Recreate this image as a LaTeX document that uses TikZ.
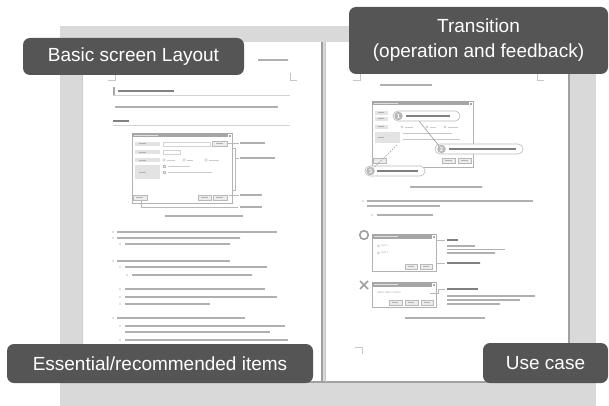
\documentclass[tikz,border=0pt]{standalone}
\usepackage{fontspec}
\setmainfont{Liberation Sans}
\definecolor{bggrey}{HTML}{D9D9D9}
\definecolor{labelfill}{HTML}{555555}
\definecolor{txtgrey}{HTML}{B0B0B0}
\definecolor{darktxt}{HTML}{808080}
\definecolor{edgegrey}{HTML}{A0A0A0}
\newcommand{\txtbar}[3]{\draw[tline] (#1,#3) -- (#2,#3);}
\newcommand{\txtbarD}[3]{\draw[tline,draw=darktxt] (#1,#3) -- (#2,#3);}
\begin{document}
\begin{tikzpicture}[x=1pt,y=-1pt,
  tag/.style={fill=labelfill, rounded corners=7pt, text=white,
    font=\fontsize{19}{25}\selectfont, inner sep=0pt, align=center},
  tline/.style={draw=txtgrey, line width=1.3pt, dash pattern=on 2.6pt off 0.4pt},
  rule/.style={draw=gray!35, line width=0.5pt},
  conn/.style={draw=gray!55, line width=0.5pt},
  dlg/.style={draw=gray!60, fill=white, line width=0.6pt},
  tbar/.style={fill=gray!70},
  lbox/.style={fill=gray!22},
  fld/.style={draw=gray!35, fill=white, line width=0.4pt},
  btn/.style={draw=gray!55, fill=gray!15, line width=0.4pt},
  pill/.style={draw=gray!55, fill=white, rounded corners=5pt, line width=0.6pt},
  numc/.style={circle, fill=gray!55, text=white, inner sep=0pt, minimum size=8.5pt,
    font=\fontsize{6}{6}\selectfont\bfseries},
  tiny/.style={font=\fontsize{2.6}{3}\selectfont, text=gray!70, inner sep=0pt, anchor=west},
  okmark/.style={draw=gray!75, line width=1.6pt},
  crop/.style={draw=gray!45, line width=0.4pt}
]
\useasboundingbox (0,0) rectangle (609,406);
% background and pages
\fill[bggrey] (60,26) rectangle (596,406);
\fill[white] (82,42) rectangle (322,382);
\fill[white] (325,42) rectangle (569,382);
\draw[draw=gray!40, line width=0.5pt] (82,42) -- (82,382);
\draw[draw=edgegrey, line width=1.6pt] (569,42) -- (569,382.5);
\draw[draw=edgegrey, line width=1.4pt] (82,382) -- (569.8,382);
\draw[draw=gray!75, line width=1.2pt] (322,42) -- (322,382);
\draw[draw=gray!45, line width=0.6pt] (325,42) -- (325,382);

% ---------------- left page ----------------
\draw[crop] (108,80) -- (115,80) -- (115,73);
\draw[crop] (297,80) -- (290,80) -- (290,73);
\txtbar{258}{288}{60}
\fill[gray!70] (113,87) rectangle (115,95);
\txtbarD{118}{174}{91}
\draw[rule] (113,95.5) -- (290,95.5);
\txtbar{115}{278}{107}
\txtbarD{113}{129}{121}
\draw[rule] (113,125) -- (290,125);

% dialog
\draw[dlg] (132,133) rectangle (232,203);
\fill[tbar] (132,133) rectangle (232,137.5);
\draw[draw=gray!25, line width=1pt] (134,135.3) -- (158,135.3);
\draw[draw=white, line width=0.3pt] (228,134) rectangle (231,137);
\fill[lbox] (135,142) rectangle (160,146);
\fill[lbox] (135,150) rectangle (160,154);
\fill[lbox] (135,158) rectangle (160,162);
\fill[lbox] (135,165) rectangle (160,179);
\foreach \yy in {144,152,160,172} {\draw[draw=gray!60, line width=1pt] (139,\yy) -- (146,\yy);}
\draw[fld] (163,142) rectangle (210,146);
\draw[btn] (212,141.5) rectangle (227,146.5);
\draw[draw=gray!60, line width=1pt] (216,144) -- (223,144);
\draw[fld] (163,150) rectangle (180,154);
\foreach \xx/\ww in {164/8,184/6,206/10} {
  \draw[draw=gray!55, line width=0.4pt] (\xx,160) circle (1.3);
  \draw[draw=gray!40, line width=0.8pt] (\xx+3,160) -- (\xx+3+\ww,160);}
\draw[draw=gray!55, line width=0.4pt] (163,165) rectangle (165.5,167.5);
\draw[draw=gray!55, line width=0.4pt] (163,171) rectangle (165.5,173.5);
\draw[draw=gray!40, line width=0.8pt] (168,166.2) -- (190,166.2);
\draw[draw=gray!40, line width=0.8pt] (168,172.2) -- (212,172.2);
\draw[btn] (133,195) rectangle (147,200);
\draw[btn] (198,195) rectangle (211,200);
\draw[btn] (213,195) rectangle (227,200);
\foreach \xx in {136,201,216} {\draw[draw=gray!60, line width=1pt] (\xx,197.5) -- (\xx+7,197.5);}
% annotations
\draw[conn] (227,143) -- (239,143);
\txtbar{240}{265}{143}
\draw[conn] (233,148) -- (235,148) -- (235,190) -- (233,190);
\draw[conn] (235,158) -- (239,158);
\txtbar{240}{275}{158}
\draw[conn] (229,195) -- (239,195);
\txtbar{240}{262}{195}
\draw[conn] (141,200) -- (141,207) -- (238,207);
\txtbar{240}{262}{207}
\txtbar{165}{243}{216}
% bullets
\foreach \bx/\x/\xe/\y in {113/117/277/232, 113/117/240/238, 120/125/230/244,
   113/117/230/261, 120/125/267/267, 127/132/252/275,
   120/125/265/289, 120/125/277/297, 120/125/210/304,
   113/117/245/318, 120/125/285/326, 0/125/270/332, 120/125/288/340} {
  \ifnum\bx>0 \fill[darktxt] (\bx,\y) circle (0.7);\fi
  \draw[tline] (\x,\y) -- (\xe,\y);}

% ---------------- right page ----------------
\draw[crop] (353,80) -- (360,80) -- (360,73);
\draw[crop] (544,80) -- (537,80) -- (537,73);
\draw[crop] (355,347) -- (362,347) -- (362,354);
\txtbar{380}{432}{85}
% dialog
\draw[dlg] (372,101) rectangle (473,167);
\fill[tbar] (372,101) rectangle (473,105.5);
\draw[draw=gray!25, line width=1pt] (374,103.3) -- (398,103.3);
\draw[draw=white, line width=0.3pt] (469,102) rectangle (472,105);
\fill[lbox] (375,111) rectangle (388,115);
\fill[lbox] (375,117) rectangle (388,121);
\fill[lbox] (375,125) rectangle (388,129);
\fill[lbox] (375,132) rectangle (400,143);
\foreach \yy in {113,119,127,137.5} {\draw[draw=gray!60, line width=1pt] (378,\yy) -- (384,\yy);}
\foreach \xx/\ww in {402/8,427/6,445/10} {
  \draw[draw=gray!55, line width=0.4pt] (\xx,127) circle (1.2);
  \draw[draw=gray!40, line width=0.8pt] (\xx+3,127) -- (\xx+3+\ww,127);}
\draw[draw=gray!45, line width=0.8pt] (403,133) -- (452,133);
\draw[draw=gray!45, line width=0.8pt] (403,139) -- (460,139);
\draw[btn] (373,158) rectangle (386,163);
\draw[btn] (442,158) rectangle (455,163);
\draw[btn] (458,158) rectangle (471,163);
\foreach \xx in {445,461} {\draw[draw=gray!60, line width=1pt] (\xx,160.5) -- (\xx+7,160.5);}
% callouts
\draw[pill] (393,111) rectangle (460,121);
\node[numc] (n1) at (398.5,116) {1};
\txtbarD{406}{450}{116}
\draw[pill] (435,144) rectangle (523,154);
\node[numc] (n2) at (441.5,149) {2};
\txtbarD{449}{516}{149}
\draw[pill] (365,166) rectangle (425,176);
\node[numc] (n3) at (370.5,171) {3};
\txtbarD{377}{418}{171}
\coordinate (a1) at (419,121);
\draw[draw=gray!70, line width=0.7pt] (a1) -- (n2);
\coordinate (d1) at (397,145);
\draw[draw=gray!70, line width=0.7pt, dash pattern=on 1.5pt off 1.2pt] (d1) -- (n3);
\txtbar{410}{482}{187}
% bullets
\fill[darktxt] (363,201) circle (0.7);
\txtbar{367}{533}{201}
\txtbar{367}{440}{206}
\fill[darktxt] (372,215) circle (0.7);
\txtbar{377}{433}{215}
% good example
\draw[okmark] (364,235) circle (4.3);
\draw[dlg] (372,234) rectangle (436,271);
\fill[tbar] (372,234) rectangle (436,239);
\draw[draw=gray!25, line width=1pt] (374,236.5) -- (398,236.5);
\draw[draw=white, line width=0.3pt] (432,235) rectangle (435,238);
\draw[draw=gray!55, line width=0.3pt] (378.5,246) circle (1.1);
\node[tiny] (i1) at (381,246) {Item 1};
\draw[draw=gray!55, line width=0.3pt] (378.5,253) circle (1.1);
\node[tiny] (i2) at (381,253) {Item 2};
\draw[btn] (405,264) rectangle (417,269);
\draw[btn] (420,264) rectangle (432,269);
\foreach \xx in {408,423} {\draw[draw=gray!60, line width=1pt] (\xx,266.5) -- (\xx+6,266.5);}
\draw[conn] (437,240) -- (445,240);
\txtbarD{447}{458}{240}
\txtbar{447}{475}{246}
\txtbar{447}{505}{249.5}
\txtbar{447}{495}{253}
\draw[conn] (437,263) -- (445,263);
\txtbarD{447}{480}{263}
% bad example
\draw[okmark] (360,281) -- (368,289);
\draw[okmark] (360,289) -- (368,281);
\draw[dlg] (372,282) rectangle (436,307);
\fill[tbar] (372,282) rectangle (436,287);
\draw[draw=gray!25, line width=1pt] (374,284.5) -- (398,284.5);
\draw[draw=white, line width=0.3pt] (432,283) rectangle (435,286);
\node[tiny] (sel) at (377,293) {Select either of them};
\draw[btn] (389,300) rectangle (402,305);
\draw[btn] (405,300) rectangle (418,305);
\draw[btn] (421,300) rectangle (433,305);
\foreach \xx in {392,408,424} {\draw[draw=gray!60, line width=1pt] (\xx,302.5) -- (\xx+6,302.5);}
\draw[conn] (430,293) -- (438,293) -- (438,289) -- (445,289);
\txtbarD{447}{478}{289}
\txtbar{447}{535}{296}
\txtbar{447}{520}{300}
\txtbar{447}{500}{304}
\txtbar{405}{485}{318}

% ---------------- labels ----------------
\node[tag, minimum width=221pt, minimum height=37pt] (basic) at (133.5,56.5) {Basic screen Layout};
\node[tag, minimum width=259pt, minimum height=67pt] (trans) at (478.5,40.5) {Transition\\(operation and feedback)};
\node[tag, minimum width=306pt, minimum height=39pt] (essen) at (160,363.5) {Essential/recommended items};
\node[tag, minimum width=125pt, minimum height=40pt] (usec) at (545.5,363) {Use case};
\end{tikzpicture}
\end{document}
